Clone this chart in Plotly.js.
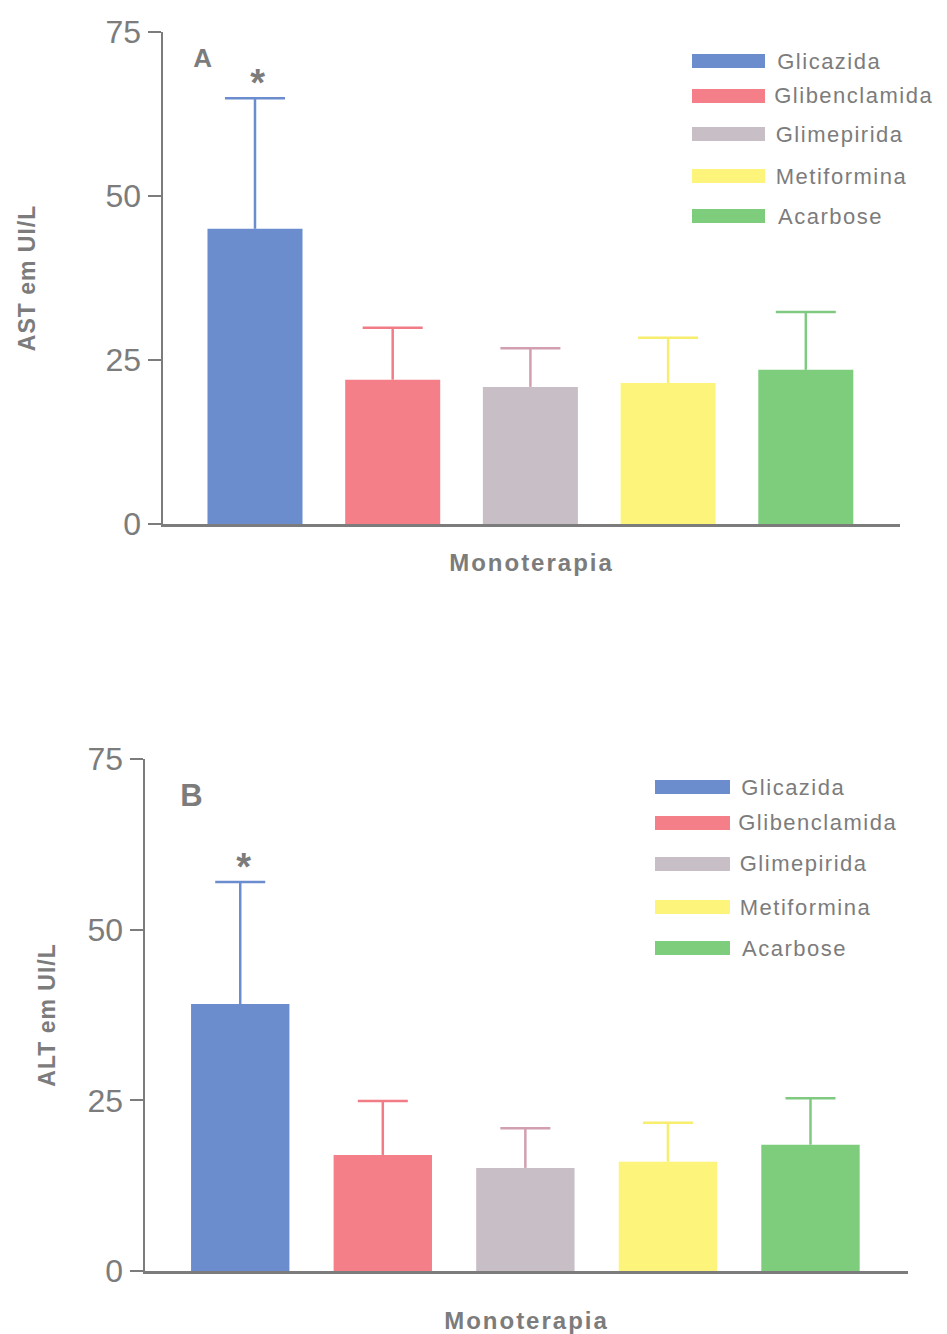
<!DOCTYPE html>
<html>
<head>
<meta charset="utf-8">
<script src="https://cdn.plot.ly/plotly-3.0.1.min.js"></script>
<style>
html,body{margin:0;padding:0;background:#fff}
#chart{width:947px;height:1334px}
#chart .annotation-text{letter-spacing:1.5px}
#chart .xtitle,#chart .x2title{letter-spacing:2px}
#chart .ytitle,#chart .y2title{letter-spacing:1px}
</style>
</head>
<body>
<div id="chart"></div>
<script>
// ---- data ----
const categories = ['Glicazida', 'Glibenclamida', 'Glimepirida', 'Metiformina', 'Acarbose'];
const astMean = [45.0, 22.0, 20.9, 21.5, 23.5];
const astSD   = [19.9, 7.9, 5.9, 6.9, 8.8];
const altMean = [39.1, 17.0, 15.1, 16.0, 18.5];
const altSD   = [17.9, 7.9, 5.8, 5.7, 6.8];
const yTickVals = [0, 25, 50, 75];
const yTickText = ['0', '25', '50', '75'];
const panelLabels = ['A', 'B'];
const yTitles = ['AST em UI/L', 'ALT em UI/L'];
const xTitle = 'Monoterapia';
const signif = ['*', '', '', '', ''];

// ---- styles ----
const barColors = ['#6b8dcd', '#f47f88', '#c8bec6', '#fdf47c', '#7dcd7c'];
const errColors = ['#6b8dcd', '#f27c86', '#d19fb0', '#f7ee6e', '#7fca80'];
const gray = '#7c7c7c';
const FONT = 'Liberation Sans, Arial, sans-serif';
const W = 947, H = 1334;
const px = x => x / W;
const py = y => 1 - y / H;

const traces = [];
function addPanel(means, sds, xa, ya, capW) {
  categories.forEach((c, i) => {
    // bar with upward stem (no caps)
    traces.push({
      type: 'bar', x: [c], y: [means[i]], name: c,
      xaxis: xa, yaxis: ya, width: 0.69, showlegend: false,
      marker: {color: barColors[i], line: {width: 0}},
      error_y: {type: 'data', symmetric: false, array: [sds[i]], arrayminus: [0],
                color: errColors[i], thickness: 2.5, width: 0}
    });
    // cap at the top of the stem
    traces.push({
      type: 'scatter', mode: 'markers', x: [c], y: [means[i] + sds[i]], name: c + ' SD',
      xaxis: xa, yaxis: ya, showlegend: false, marker: {size: 1, opacity: 0},
      error_y: {type: 'data', array: [0], color: errColors[i], thickness: 2.5, width: capW}
    });
  });
}
addPanel(astMean, astSD, 'x', 'y', 30);
addPanel(altMean, altSD, 'x2', 'y2', 25);

const axFont = {family: FONT, size: 32, color: gray};
const yTitleFont = {family: FONT, size: 23, color: gray, weight: 'bold'};
const xTitleFont = {family: FONT, size: 24, color: gray, weight: 'bold'};

function xAxis(domain, anchor, standoff) {
  return {domain: domain, anchor: anchor, type: 'category', categoryarray: categories,
    range: [-0.668, 4.684], showline: true, linecolor: gray, linewidth: 2.5,
    ticks: '', showticklabels: false, showgrid: false, zeroline: false, fixedrange: true,
    title: {text: xTitle, font: xTitleFont, standoff: standoff}};
}
function yAxis(domain, anchor, title, standoff) {
  return {domain: domain, anchor: anchor, range: [0, 75], tickvals: yTickVals, ticktext: yTickText,
    showline: true, linecolor: gray, linewidth: 2.5, ticks: 'outside', ticklen: 13,
    tickwidth: 2, tickcolor: gray, tickfont: axFont, showgrid: false, zeroline: false,
    title: {text: title, font: yTitleFont, standoff: standoff}};
}

const shapes = [];
const annotations = [];
function addLegend(x0, x1, tx, rows) {
  categories.forEach((c, i) => {
    shapes.push({type: 'rect', xref: 'paper', yref: 'paper', x0: px(x0), x1: px(x1),
      y0: py(rows[i] + 7), y1: py(rows[i] - 7), fillcolor: barColors[i], line: {width: 0}});
    annotations.push({xref: 'paper', yref: 'paper', x: px(tx), y: py(rows[i]), text: c,
      showarrow: false, xanchor: 'left', yanchor: 'middle',
      font: {family: FONT, size: 22, color: gray}});
  });
}
addLegend(692, 765, 782, [61, 96, 134, 176, 216]);
addLegend(655, 730, 746, [787, 823, 864, 907, 948]);

// panel letters
annotations.push({xref: 'paper', yref: 'paper', x: px(203), y: py(58), xanchor: 'center', yanchor: 'middle',
  text: '<b>' + panelLabels[0] + '</b>', showarrow: false, font: {family: FONT, size: 26, color: gray}});
annotations.push({xref: 'paper', yref: 'paper', x: px(192), y: py(796), xanchor: 'center', yanchor: 'middle',
  text: '<b>' + panelLabels[1] + '</b>', showarrow: false, font: {family: FONT, size: 31, color: gray}});

// significance markers above error bars
[[astMean, astSD, 'x', 'y'], [altMean, altSD, 'x2', 'y2']].forEach(([m, s, xa, ya]) => {
  categories.forEach((c, i) => {
    if (signif[i]) annotations.push({xref: xa, yref: ya, x: c, y: m[i] + s[i], text: '<b>' + signif[i] + '</b>',
      showarrow: false, yanchor: 'bottom', yshift: -8, xshift: 4,
      font: {family: FONT, size: 38, color: gray}});
  });
});

const layout = {
  width: W, height: H, margin: {l: 0, r: 0, t: 0, b: 0},
  paper_bgcolor: '#fff', plot_bgcolor: '#fff', barmode: 'overlay', showlegend: false,
  xaxis: xAxis([px(163), px(900)], 'y', 29),
  yaxis: yAxis([py(524), py(32)], 'x', yTitles[0], 64),
  xaxis2: xAxis([px(145), px(908)], 'y2', 40),
  yaxis2: yAxis([py(1271), py(759)], 'x2', yTitles[1], 26),
  shapes: shapes, annotations: annotations
};
Plotly.newPlot('chart', traces, layout, {staticPlot: true, displayModeBar: false});
</script>
</body>
</html>
